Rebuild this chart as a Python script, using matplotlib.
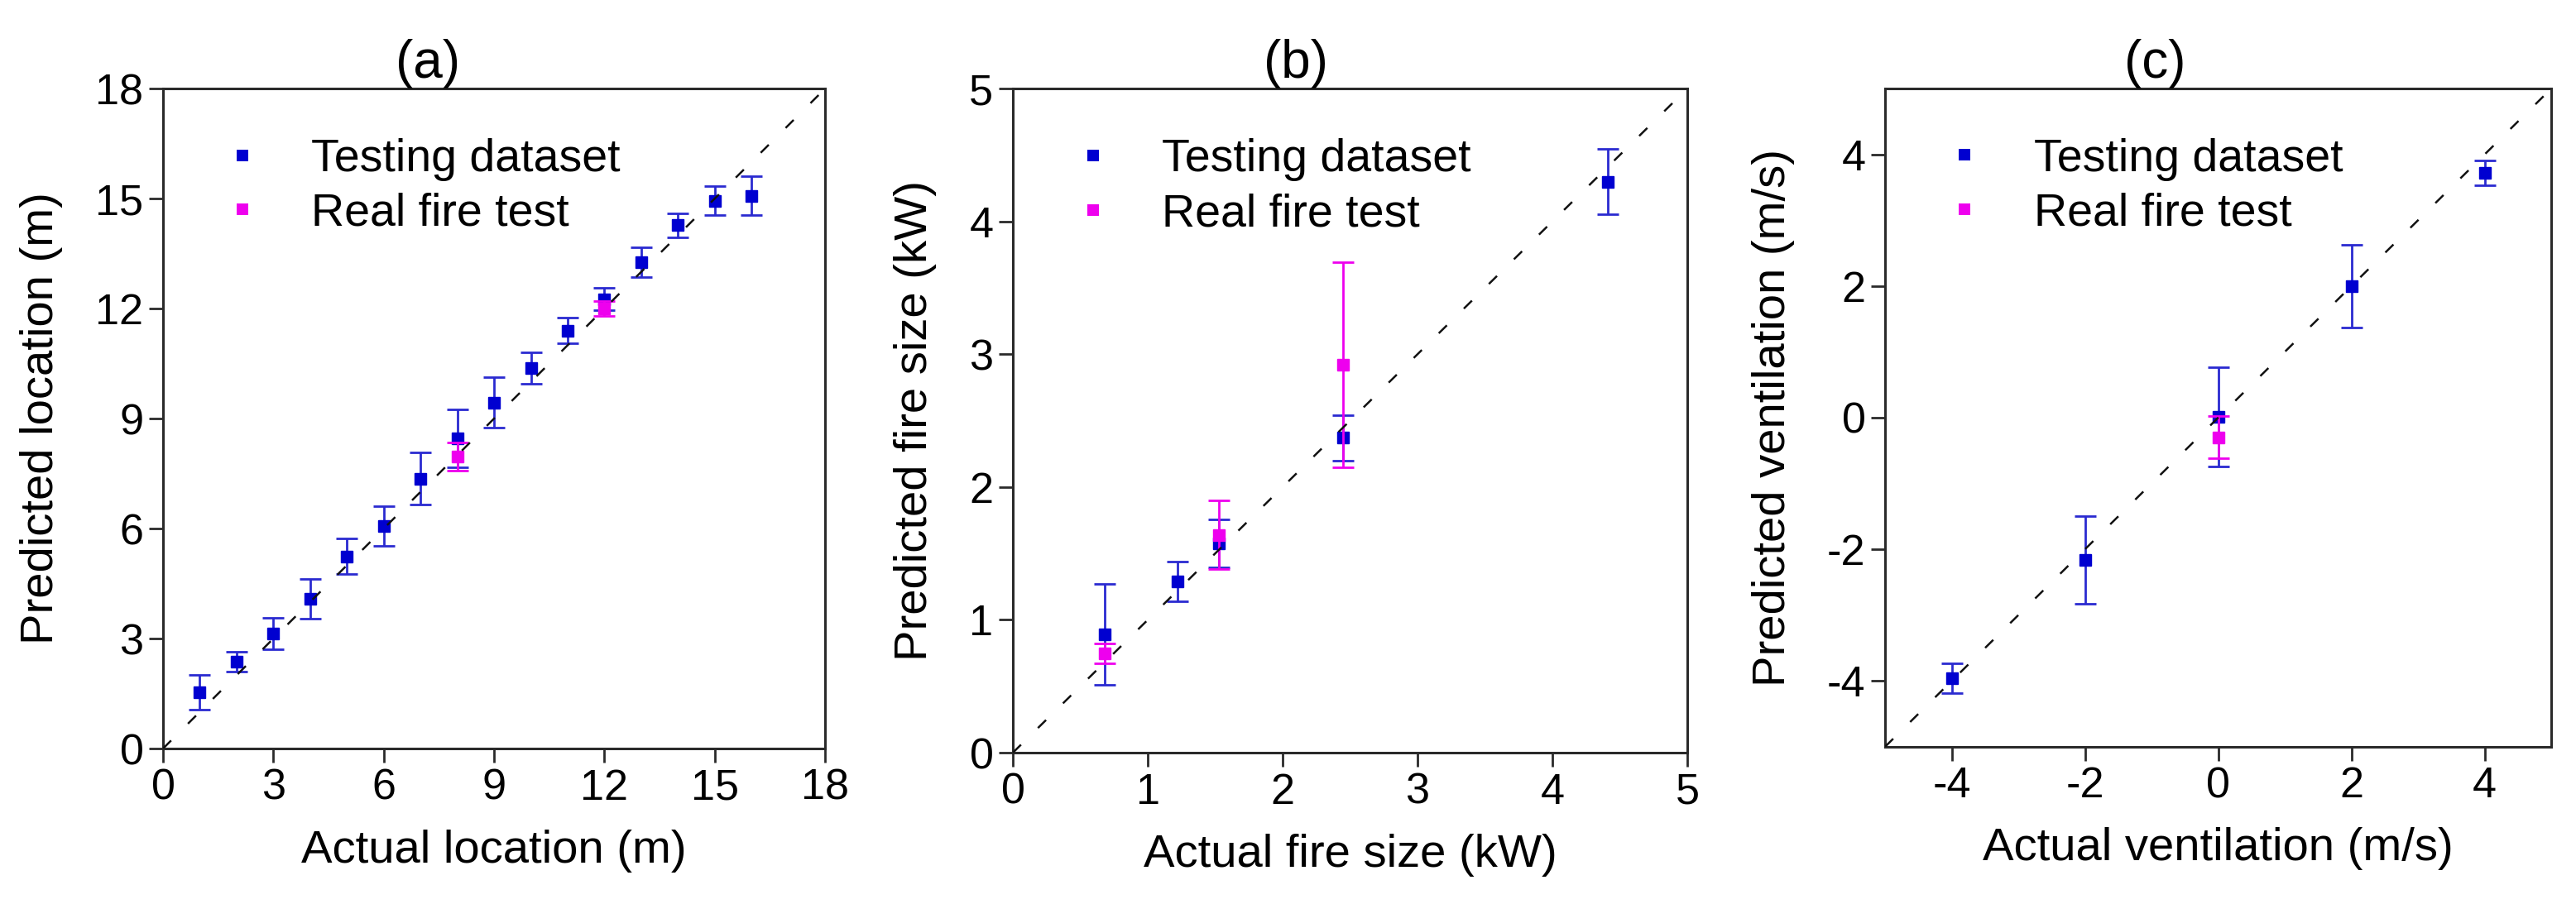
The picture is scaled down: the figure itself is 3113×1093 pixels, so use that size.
import matplotlib
matplotlib.use("Agg")
import matplotlib.pyplot as plt
from matplotlib.lines import Line2D

plt.rcParams['font.family'] = ['Liberation Sans', 'DejaVu Sans']
plt.rcParams['axes.unicode_minus'] = False

# ---- data ----
a_test_x = [1, 2, 3, 4, 5, 6, 7, 8, 9, 10, 11, 12, 13, 14, 15, 16]
a_test_y = [1.53, 2.37, 3.14, 4.09, 5.24, 6.07, 7.36, 8.46, 9.44, 10.38, 11.40, 12.26, 13.27, 14.27, 14.94, 15.08]
a_test_err = [0.48, 0.28, 0.43, 0.54, 0.48, 0.54, 0.71, 0.80, 0.69, 0.42, 0.35, 0.30, 0.41, 0.32, 0.40, 0.52]
a_real_x = [8, 12]
a_real_y = [7.97, 12.0]
a_real_err = [0.38, 0.20]

b_test_x = [0.68, 1.22, 1.53, 2.45, 4.41]
b_test_y = [0.89, 1.29, 1.575, 2.37, 4.30]
b_test_err = [0.38, 0.15, 0.18, 0.17, 0.245]
b_real_x = [0.68, 1.53, 2.45]
b_real_y = [0.75, 1.64, 2.92]
b_real_err = [0.075, 0.26, 0.77]

c_test_x = [-4, -2, 0, 2, 4]
c_test_y = [-3.96, -2.16, 0.01, 2.0, 3.72]
c_test_err = [0.23, 0.67, 0.75, 0.63, 0.19]
c_real_x = [0]
c_real_y = [-0.30]
c_real_err = [0.32]

titles = ["(a)", "(b)", "(c)"]
xlabels = ["Actual location (m)", "Actual fire size (kW)", "Actual ventilation (m/s)"]
ylabels = ["Predicted location (m)", "Predicted fire size (kW)", "Predicted ventilation (m/s)"]
limits = [(0, 18), (0, 5), (-5, 5)]
ticks = [[0, 3, 6, 9, 12, 15, 18], [0, 1, 2, 3, 4, 5], [-4, -2, 0, 2, 4]]
legend_labels = ["Testing dataset", "Real fire test"]

BLUE = '#0000d0'
BLUE_ERR = '#2a2ad0'
MAG = '#ee00ee'
SPINE = '#2a2a2a'

fig = plt.figure(figsize=(31.13, 10.93), dpi=100)
positions = [
    [0.0633, 0.172, 0.257, 0.730],
    [0.3932, 0.1674, 0.2618, 0.7346],
    [0.7318, 0.174, 0.2586, 0.728],
]
title_x = [0.40, 0.42, 0.405]

datasets = [
    (a_test_x, a_test_y, a_test_err, a_real_x, a_real_y, a_real_err),
    (b_test_x, b_test_y, b_test_err, b_real_x, b_real_y, b_real_err),
    (c_test_x, c_test_y, c_test_err, c_real_x, c_real_y, c_real_err),
]

for i, pos in enumerate(positions):
    ax = fig.add_axes(pos)
    tx, ty, te, rx, ry, re = datasets[i]
    lo, hi = limits[i]
    ax.errorbar(tx, ty, yerr=te, fmt='s', color=BLUE, ecolor=BLUE_ERR,
                markersize=10, elinewidth=2.0, capsize=9.5, capthick=2.0,
                markeredgecolor=BLUE, zorder=3)
    ax.errorbar(rx, ry, yerr=re, fmt='s', color=MAG, ecolor=MAG,
                markersize=10, elinewidth=2.0, capsize=9.5, capthick=2.0,
                markeredgecolor=MAG, zorder=4)
    ax.plot([lo, hi], [lo, hi], color='#111111', lw=1.8,
            linestyle=(0, (5.5, 11.5)), zorder=5)
    ax.set_xlim(lo, hi)
    ax.set_ylim(lo, hi)
    ax.set_xticks(ticks[i])
    ax.set_yticks(ticks[i])
    ax.tick_params(axis='both', direction='out', length=12, width=2.0,
                   labelsize=37.5, pad=5, color=SPINE, top=False, right=False)
    for s in ax.spines.values():
        s.set_linewidth(2.2)
        s.set_color(SPINE)
    ax.set_xlabel(xlabels[i], fontsize=40.5, labelpad=18)
    ax.set_ylabel(ylabels[i], fontsize=40.5, labelpad=28)
    ax.set_title(titles[i], fontsize=46, x=title_x[i], pad=4)
    handles = [Line2D([], [], linestyle='none', marker='s', color=BLUE, markersize=10, markeredgewidth=0),
               Line2D([], [], linestyle='none', marker='s', color=MAG, markersize=10, markeredgewidth=0)]
    ax.legend(handles, legend_labels, loc='upper left', bbox_to_anchor=(0.085, 0.925),
              frameon=False, fontsize=40, borderpad=0, borderaxespad=0,
              handlelength=1.0, handletextpad=1.0, labelspacing=0.25)

fig.savefig("out.png", dpi=100, facecolor='white')
